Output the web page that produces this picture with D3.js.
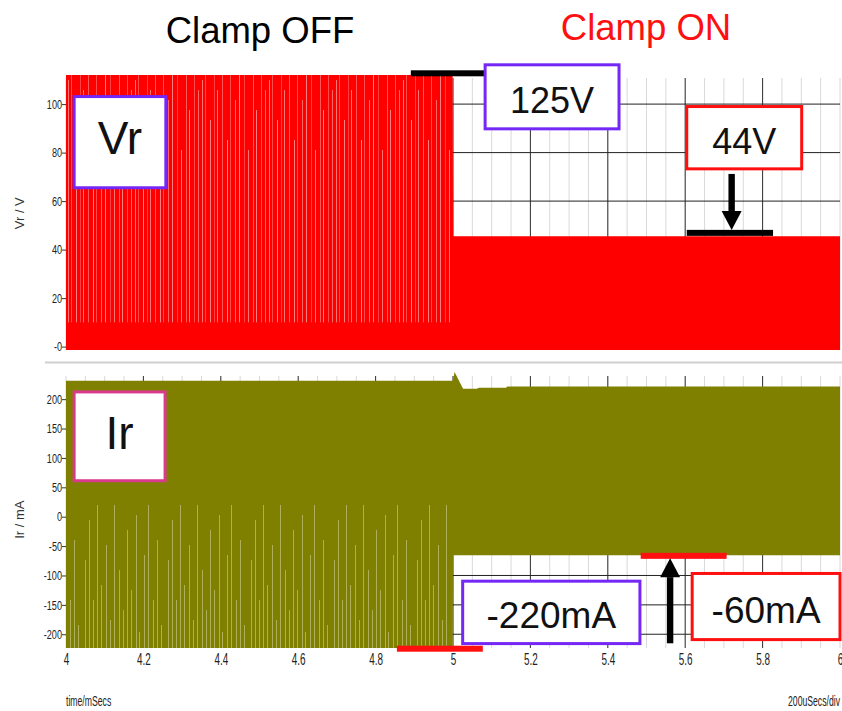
<!DOCTYPE html>
<html lang="en">
<head>
  <meta charset="UTF-8" />
  <title>Clamp OFF / Clamp ON</title>
  <script src="https://d3js.org/d3.v7.min.js"></script>
  <style>
    body { margin: 0; background: #fff; }
    svg { display: block; font-family: "Liberation Sans", Arial, sans-serif; }
  </style>
</head>
<body>
<script>
  // x axis (time in ms)
  const timeTicks = [4, 4.2, 4.4, 4.6, 4.8, 5, 5.2, 5.4, 5.6, 5.8, 6];
  const timeLabels = ["4", "4.2", "4.4", "4.6", "4.8", "5", "5.2", "5.4", "5.6", "5.8", "6"];

  // Vr panel
  const vrTicks = [0, 20, 40, 60, 80, 100];
  const vrTickLabels = ["-0", "20", "40", "60", "80", "100"];
  const vrTime = [4.0, 4.999, 5.0, 6.0];
  const vrMax  = [112, 112, 45.5, 45.5];
  const vrMin  = [-1.4, -1.4, -1.4, -1.4];

  // Ir panel
  const irTicks = [-200, -150, -100, -50, 0, 50, 100, 150, 200];
  const irTime = [4.0, 4.999, 5.0, 5.004, 5.026, 5.061, 5.067, 5.137, 5.14, 6.0];
  const irMax  = [231.5, 231.5, 231.5, 246, 217.5, 217.5, 219.5, 219.5, 221.5, 221.5];
  const irMin  = [-223.4, -223.4, -65.4, -65.4, -65.4, -65.4, -65.4, -65.4, -65.4, -65.4];

  const W = 842, H = 711;
  const purple = "#7427f5", pink = "#d93a8e", red = "#ff1010";

  const svg = d3.select("body").append("svg").attr("width", W).attr("height", H);

  const x = d3.scaleLinear().domain([4, 6]).range([66, 840]);
  const yV = d3.scaleLinear().domain([-1.4, 112]).range([350, 75]);
  const yI = d3.scaleLinear().domain([-223.4, 239.4]).range([648, 376]);

  // stripe patterns (aliasing of the fast switching waveform)
  const defs = svg.append("defs");
  const pv = defs.append("pattern").attr("id", "stripesV")
    .attr("patternUnits", "userSpaceOnUse").attr("width", 67).attr("height", 400);
  [[1, 80, 0.45], [4, 75, 0.3], [9, 120, 0.5], [13, 75, 0.25], [16, 90, 0.45], [21, 75, 0.35],
   [26, 140, 0.5], [29, 75, 0.3], [34, 100, 0.4], [38, 75, 0.5], [43, 75, 0.25], [47, 150, 0.45],
   [52, 75, 0.35], [55, 110, 0.5], [60, 75, 0.3], [64, 90, 0.4]]
    .forEach(([px, top, op]) => pv.append("rect").attr("x", px).attr("y", top)
      .attr("width", 1).attr("height", 400).attr("fill", "#fff").attr("opacity", op));
  const pi = defs.append("pattern").attr("id", "stripesI")
    .attr("patternUnits", "userSpaceOnUse").attr("width", 83).attr("height", 700);
  [[2, 560], [6, 520], [10, 600], [14, 505], [18, 585], [23, 545], [27, 620], [31, 500], [36, 570],
   [40, 610], [44, 530], [48, 590], [53, 515], [56, 632], [61, 555], [65, 495], [70, 600], [74, 540],
   [78, 625]]
    .forEach(([px, top]) => pi.append("rect").attr("x", px).attr("y", top)
      .attr("width", 1).attr("height", 700).attr("fill", "#cfcf96").attr("opacity", 0.6));

  // grid
  function grid(g, yScale, yTicks, top, bottom) {
    g.selectAll(".minor").data(x.ticks(50)).enter().append("line")
      .attr("x1", d => x(d)).attr("x2", d => x(d))
      .attr("y1", top).attr("y2", bottom)
      .attr("stroke", "#d9d9d9").attr("stroke-width", 1);
    g.selectAll(".major").data(timeTicks.slice(1, -1)).enter().append("line")
      .attr("x1", d => x(d)).attr("x2", d => x(d))
      .attr("y1", top).attr("y2", bottom)
      .attr("stroke", "#333").attr("stroke-width", 1);
    g.selectAll(".hmajor").data(yTicks).enter().append("line")
      .attr("x1", x(4)).attr("x2", x(6))
      .attr("y1", d => yScale(d)).attr("y2", d => yScale(d))
      .attr("stroke", "#222").attr("stroke-width", 1);
  }
  grid(svg.append("g"), yV, vrTicks.slice(1), 78, 350);
  grid(svg.append("g"), yI, irTicks, 376, 648);

  // separator between panels
  svg.append("line").attr("x1", 45).attr("x2", W).attr("y1", 362.5).attr("y2", 362.5)
    .attr("stroke", "#cfcfcf").attr("stroke-width", 2);

  // waveform envelopes
  const vrData = vrTime.map((t, i) => ({ t, hi: vrMax[i], lo: vrMin[i] }));
  const irData = irTime.map((t, i) => ({ t, hi: irMax[i], lo: irMin[i] }));

  svg.append("path").datum(vrData)
    .attr("d", d3.area().x(d => x(d.t)).y0(d => yV(d.lo)).y1(d => yV(d.hi)))
    .attr("fill", "#ff0000");
  svg.append("rect").attr("x", x(4)).attr("y", yV(112))
    .attr("width", x(4.997) - x(4)).attr("height", yV(10) - yV(112))
    .attr("fill", "url(#stripesV)");

  svg.append("path").datum(irData)
    .attr("d", d3.area().x(d => x(d.t)).y0(d => yI(d.lo)).y1(d => yI(d.hi)))
    .attr("fill", "#808000");
  svg.append("rect").attr("x", x(4)).attr("y", yI(20))
    .attr("width", x(4.995) - x(4)).attr("height", yI(-223.4) - yI(20))
    .attr("fill", "url(#stripesI)");

  // y axes
  function yAxis(yScale, ticks, labels, sx) {
    const g = svg.append("g").attr("transform", `translate(${x(4)},0)`)
      .call(d3.axisLeft(yScale).tickValues(ticks).tickSize(4).tickFormat((d, i) => labels[i]));
    g.select(".domain").remove();
    g.selectAll(".tick line").attr("stroke", "#333");
    g.selectAll(".tick text").attr("x", 0)
      .attr("transform", `translate(-4,0) scale(${sx},1)`)
      .style("font-size", "13px").attr("fill", "#222");
  }
  yAxis(yV, vrTicks, vrTickLabels, 0.7);
  yAxis(yI, irTicks, irTicks.map(String), 0.7);

  // x axis labels
  const xa = svg.append("g").attr("transform", "translate(0,648)")
    .call(d3.axisBottom(x).tickValues(timeTicks).tickSize(0).tickFormat((d, i) => timeLabels[i]));
  xa.select(".domain").remove();
  xa.selectAll(".tick text").attr("y", 0).attr("dy", 0)
    .attr("transform", "translate(0,17) scale(0.62,1)")
    .style("font-size", "16px").attr("fill", "#222");

  // axis titles
  svg.append("text").attr("transform", `translate(24,${yV(55)}) rotate(-90)`)
    .attr("text-anchor", "middle").style("font-size", "13px").attr("fill", "#333").text("Vr / V");
  svg.append("text").attr("transform", `translate(24,${yI(-5)}) rotate(-90)`)
    .attr("text-anchor", "middle").style("font-size", "13px").attr("fill", "#333").text("Ir / mA");
  svg.append("text").attr("transform", `translate(${x(4)},706) scale(0.62,1)`)
    .style("font-size", "14px").attr("fill", "#222").text("time/mSecs");
  svg.append("text").attr("transform", `translate(788,706) scale(0.62,1)`)
    .style("font-size", "14px").attr("fill", "#222").text("200uSecs/div");

  // titles
  svg.append("text").attr("x", 260).attr("y", 43).attr("text-anchor", "middle")
    .style("font-size", "36.5px").attr("fill", "#000").text("Clamp OFF");
  svg.append("text").attr("x", 646).attr("y", 39.5).attr("text-anchor", "middle")
    .style("font-size", "36.5px").attr("fill", red).text("Clamp ON");

  // annotation bars
  const bars = [
    { t0: 4.891, t1: 5.088, y: yV(112.7), color: "#000" },
    { t0: 5.604, t1: 5.827, y: yV(46.9), color: "#000" },
    { t0: 5.485, t1: 5.707, y: yI(-66.6), color: red },
    { t0: 4.855, t1: 5.077, y: yI(-224.6), color: red }
  ];
  bars.forEach(b => svg.append("rect").attr("x", x(b.t0)).attr("y", b.y - 3)
    .attr("width", x(b.t1) - x(b.t0)).attr("height", 6).attr("fill", b.color));

  // arrows
  function arrow(t, yFrom, yTip) {
    const dir = Math.sign(yTip - yFrom);
    const cx = x(t), base = yTip - dir * 19;
    svg.append("rect").attr("x", cx - 3.2).attr("width", 6.4)
      .attr("y", Math.min(yFrom, base)).attr("height", Math.abs(base - yFrom)).attr("fill", "#000");
    svg.append("path").attr("d", `M${cx - 10},${base} L${cx + 10},${base} L${cx},${yTip} Z`).attr("fill", "#000");
  }
  arrow(5.72, yV(71.2), yV(48.1));
  arrow(5.561, yI(-215.4), yI(-70.5));

  // annotation boxes
  const boxes = [
    { text: "Vr", t0: 4.021, t1: 4.258, y0: yV(103.1), y1: yV(65.5), color: purple, size: 46, dy: 12 },
    { text: "Ir", t0: 4.021, t1: 4.256, y0: yI(212.3), y1: yI(61.2), color: pink, size: 46, dy: 12.5 },
    { text: "125V", t0: 5.083, t1: 5.429, y0: yV(116.2), y1: yV(89.8), color: purple, size: 36, dy: 16 },
    { text: "44V", t0: 5.604, t1: 5.901, y0: yV(99), y1: yV(73.3), color: red, size: 36, dy: 16 },
    { text: "-220mA", t0: 5.025, t1: 5.483, y0: yI(-109.7), y1: yI(-215.9), color: purple, size: 37, dy: 16 },
    { text: "-60mA", t0: 5.618, t1: 6.0, y0: yI(-96.6), y1: yI(-209.1), color: red, size: 37, dy: 16 }
  ];
  boxes.forEach(b => {
    const bx = x(b.t0), bw = x(b.t1) - x(b.t0), bh = b.y1 - b.y0;
    svg.append("rect").attr("x", bx).attr("y", b.y0).attr("width", bw).attr("height", bh)
      .attr("fill", "#fff").attr("stroke", b.color).attr("stroke-width", 3);
    svg.append("text").attr("x", bx + bw / 2).attr("y", b.y0 + bh / 2 + b.dy)
      .attr("text-anchor", "middle").style("font-size", b.size + "px").attr("fill", "#111").text(b.text);
  });
</script>
</body>
</html>
